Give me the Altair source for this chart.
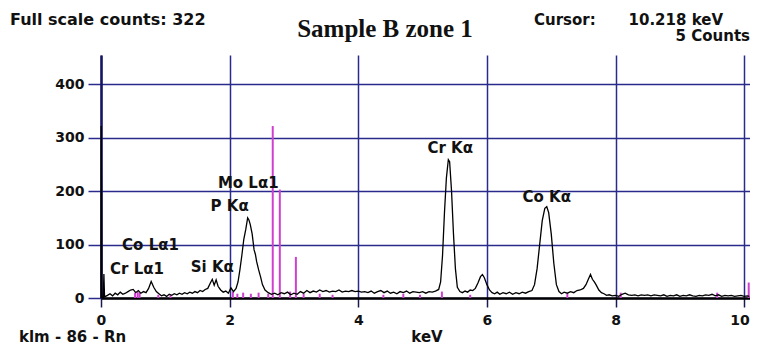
import altair as alt
import pandas as pd

# ---- spectrum (keV, counts) ----
spec_kev = [0.000, 0.003, 0.008, 0.014, 0.035, 0.045, 0.055,
            0.10, 0.14, 0.18, 0.22, 0.26, 0.30, 0.34, 0.38, 0.42, 0.46, 0.50, 0.54, 0.58, 0.62,
            0.66, 0.70, 0.74, 0.78, 0.82, 0.86, 0.90, 0.94, 0.98, 1.02, 1.06, 1.10, 1.14, 1.18,
            1.22, 1.26, 1.30, 1.34, 1.38, 1.42, 1.46, 1.50, 1.54, 1.58, 1.62, 1.66, 1.70, 1.73,
            1.76, 1.79, 1.82, 1.86, 1.90, 1.94, 1.98, 2.02, 2.06, 2.10, 2.13, 2.16, 2.19, 2.22,
            2.25, 2.28, 2.30, 2.32, 2.35, 2.38, 2.40, 2.42, 2.45, 2.48, 2.51, 2.55, 2.60, 2.65,
            2.70, 2.75, 2.80, 2.85, 2.90, 2.95, 3.00, 3.05, 3.10, 3.15, 3.20, 3.25, 3.30, 3.35,
            3.40, 3.45, 3.50, 3.55, 3.60, 3.65, 3.70, 3.75, 3.80, 3.85, 3.90, 3.95, 4.00, 4.05,
            4.10, 4.15, 4.20, 4.25, 4.30, 4.35, 4.40, 4.45, 4.50, 4.55, 4.60, 4.65, 4.70, 4.75,
            4.80, 4.85, 4.90, 4.95, 5.00, 5.05, 5.10, 5.15, 5.20, 5.25, 5.28, 5.31, 5.34, 5.37,
            5.40, 5.42, 5.45, 5.48, 5.51, 5.54, 5.58, 5.62, 5.66, 5.70, 5.74, 5.78, 5.82, 5.86,
            5.90, 5.93, 5.96, 6.00, 6.04, 6.08, 6.12, 6.16, 6.20, 6.25, 6.30, 6.35, 6.40, 6.45,
            6.50, 6.55, 6.60, 6.65, 6.70, 6.74, 6.78, 6.82, 6.86, 6.90, 6.93, 6.96, 7.00, 7.04,
            7.08, 7.12, 7.16, 7.20, 7.25, 7.30, 7.35, 7.40, 7.45, 7.50, 7.54, 7.58, 7.61, 7.64,
            7.67, 7.70, 7.74, 7.78, 7.82, 7.86, 7.90, 7.95, 8.00, 8.05, 8.10, 8.15, 8.20, 8.25,
            8.30, 8.35, 8.40, 8.45, 8.50, 8.55, 8.60, 8.65, 8.70, 8.75, 8.80, 8.85, 8.90, 8.95,
            9.00, 9.05, 9.10, 9.15, 9.20, 9.25, 9.30, 9.35, 9.40, 9.45, 9.50, 9.55, 9.60, 9.65,
            9.70, 9.75, 9.80, 9.85, 9.90, 9.95, 10.00, 10.05, 10.08]
spec_counts = [0, 322, 205, 0, 0, 45, 2,
               5, 8, 4, 9, 6, 11, 7, 9, 12, 15, 16, 10, 14, 9,
               12, 10, 18, 31, 20, 12, 8, 4, 6, 3, 7, 5, 8, 6,
               9, 7, 10, 8, 11, 9, 12, 10, 14, 12, 16, 18, 28, 35,
               24, 34, 22, 15, 11, 13, 9, 19, 12, 18, 30, 53, 80, 110,
               128, 150, 146, 138, 120, 90, 82, 68, 53, 40, 25, 15, 10, 7,
               9, 6, 10, 8, 11, 6, 9, 7, 12, 9, 14, 10, 13, 11,
               15, 12, 14, 11, 13, 12, 15, 11, 13, 12, 14, 12, 13, 11,
               12, 10, 13, 9, 12, 14, 10, 13, 9, 11, 8, 12, 10, 13,
               9, 12, 11, 10, 12, 9, 12, 11, 13, 16, 30, 80, 160, 225,
               259, 255, 200, 120, 55, 20, 12, 10, 13, 11, 15, 14, 18, 28,
               40, 44, 38, 25, 15, 10, 8, 11, 7, 10, 8, 11, 7, 10,
               8, 11, 9, 12, 14, 25, 55, 100, 145, 168, 171, 160, 120, 65,
               25, 12, 8, 11, 9, 12, 10, 14, 15, 18, 25, 36, 44, 35,
               30, 24, 15, 10, 8, 5, 6, 4, 5, 3, 7, 9, 6, 5,
               6, 4, 6, 5, 6, 4, 6, 5, 4, 6, 3, 5, 4, 6,
               3, 5, 4, 6, 4, 3, 5, 4, 6, 5, 7, 4, 6, 3,
               5, 4, 5, 3, 4, 5, 3, 4, 3]

# ---- magenta element marker lines ----
marker_kev = [2.67, 2.78, 3.03, 10.07,
              0.53, 0.57, 0.60, 0.89, 1.08, 2.05, 2.12, 2.21, 2.33, 2.45, 2.60, 2.94,
              3.15, 3.40, 3.60, 4.39, 4.70, 4.96, 5.30, 5.74, 7.25, 8.08, 9.58]
marker_counts = [322, 203, 77, 29,
                 10, 12, 10, 6, 6, 12, 8, 10, 8, 10, 8, 12,
                 8, 8, 6, 6, 8, 6, 12, 6, 8, 10, 10]

# ---- peak labels (data coordinates) ----
peak_names = ["Cr K\u03b1", "Co K\u03b1", "Mo L\u03b11", "P K\u03b1", "Co L\u03b11", "Cr L\u03b11", "Si K\u03b1"]
peak_kev = [5.43, 6.93, 2.29, 2.00, 0.77, 0.56, 1.73]
peak_counts = [281, 190, 215, 173, 99, 55, 58]

x_ticks = [0, 2, 4, 6, 8, 10]
y_ticks = [0, 100, 200, 300, 400]

spec = pd.DataFrame({"keV": spec_kev, "counts": spec_counts, "order": range(len(spec_kev))})
markers = pd.DataFrame({"keV": marker_kev, "counts": marker_counts})
peaks = pd.DataFrame({"name": peak_names, "keV": peak_kev, "counts": peak_counts})

GRID = "#2a2a8c"
SANS = "DejaVu Sans"

xscale = alt.Scale(domain=[0, 10.09], nice=False, zero=False)
yscale = alt.Scale(domain=[0, 455], nice=False)

xaxis = alt.Axis(values=x_ticks, format="d", title=None, grid=True, gridColor=GRID, gridWidth=1.5,
                 domainColor="#000000", domainWidth=2.5, tickColor="#1a1a50", tickWidth=1.5,
                 tickSize=9, labelFont=SANS, labelFontWeight="bold", labelFontSize=14,
                 labelColor="#111111", labelPadding=6, labelFlush=8, labelFlushOffset=5)
yaxis = alt.Axis(values=y_ticks, format="d", title=None, grid=True, gridColor=GRID, gridWidth=1.5,
                 domainColor="#151560", domainWidth=2.5, tickColor=GRID, tickWidth=1.5,
                 tickSize=13, labelFont=SANS, labelFontWeight="bold", labelFontSize=14,
                 labelColor="#111111", labelPadding=4)

rules = alt.Chart(markers).mark_rule(color="#d040d0", strokeWidth=2).encode(
    x=alt.X("keV:Q", scale=xscale, axis=xaxis),
    y=alt.Y("counts:Q", scale=yscale, axis=yaxis),
    y2=alt.datum(0),
)

line = alt.Chart(spec).mark_line(color="#000000", strokeWidth=1.3).encode(
    x=alt.X("keV:Q", scale=xscale),
    y=alt.Y("counts:Q", scale=yscale),
    order="order:Q",
)

labels = alt.Chart(peaks).mark_text(font=SANS, fontWeight="bold", fontSize=15,
                                    color="#111111", baseline="middle", align="center").encode(
    x=alt.X("keV:Q", scale=xscale),
    y=alt.Y("counts:Q", scale=yscale),
    text="name:N",
)

one = alt.Data(values=[{}])

def note(txt, x, y, align="left", size=16, font=SANS, weight="bold"):
    return alt.Chart(one).mark_text(text=txt, font=font, fontWeight=weight, fontSize=size,
                                    color="#111111", align=align, baseline="alphabetic").encode(
        x=alt.value(x), y=alt.value(y))

notes = [
    note("Full scale counts: 322", -91, -30, size=16),
    note("Sample B zone 1", 284, -18, align="center", size=25, font="Liberation Serif"),
    note("Cursor:", 433, -30, size=15),
    note("10.218 keV", 622, -30, align="right", size=15),
    note("5 Counts", 649, -14, align="right", size=15),
    note("klm - 86 - Rn", -82, 287, size=15),
    note("keV", 326, 287, align="center", size=15),
]

chart = alt.layer(rules, line, labels, *notes).properties(
    width=649, height=243,
    autosize=alt.AutoSizeParams(type="none"),
    padding={"left": 93, "top": 47, "right": 0, "bottom": 50},
    background="white",
).configure_view(stroke=None)

chart.save("out.html", embed_options={"renderer": "svg", "actions": False})
